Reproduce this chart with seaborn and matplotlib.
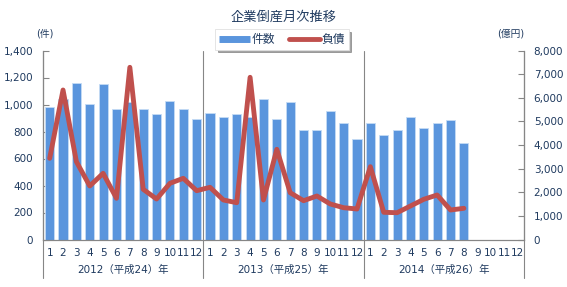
import numpy as np
import pandas as pd
import matplotlib
matplotlib.use("Agg")
import matplotlib.pyplot as plt
import matplotlib.transforms as mtransforms
from matplotlib.lines import Line2D
import seaborn as sns

# ---- data ----
month_labels = [str(m) for m in range(1, 13)] * 3
year_labels = ["2012（平成24）年", "2013（平成25）年", "2014（平成26）年"]
counts = [983, 1040, 1157, 1001, 1150, 969, 1021, 964, 927, 1028, 964, 890,
          935, 910, 927, 905, 1043, 895, 1021, 813, 813, 954, 861, 744,
          861, 776, 809, 910, 828, 861, 883, 717, np.nan, np.nan, np.nan, np.nan]
debts = [3437, 6328, 3293, 2265, 2802, 1744, 7289, 2125, 1714, 2378, 2590, 2066,
         2209, 1672, 1558, 6866, 1672, 3818, 1981, 1643, 1841, 1503, 1346, 1291,
         3082, 1151, 1134, 1418, 1702, 1884, 1249, 1320, np.nan, np.nan, np.nan, np.nan]
title = "企業倒産月次推移"
left_unit = "(件)"
right_unit = "(億円)"
series_names = ["件数", "負債"]

BLUE = "#5a95dd"
RED = "#c0504d"
TXT = "#1f3a5f"
GRID = "#868686"

sns.set_style("white")
plt.rcParams["font.family"] = ["DejaVu Sans", "Noto Sans CJK JP"]

pos = list(range(len(month_labels)))
df = pd.DataFrame({"pos": pos, "count": counts, "debt": debts})

fig = plt.figure(figsize=(5.67, 2.87), dpi=100)
ax = fig.add_axes([43 / 567, 1 - 239.5 / 287, (524 - 43) / 567, 189 / 287])

sns.barplot(data=df, x="pos", y="count", order=pos, ax=ax, color=BLUE,
            width=0.68, edgecolor="#c4dbf5", linewidth=0.6, saturation=1)
ax.set_xlim(-0.5, len(pos) - 0.5)
ax.set_ylim(0, 1400)
ax.set_yticks(range(0, 1401, 200))
ax.set_yticklabels([f"{v:,}" for v in range(0, 1401, 200)])
ax.set_xlabel("")
ax.set_ylabel("")

ax2 = ax.twinx()
sns.lineplot(data=df, x="pos", y="debt", ax=ax2, color=RED, linewidth=3.5)
ax2.set_ylim(0, 8000)
ax2.set_yticks(range(0, 8001, 1000))
ax2.set_yticklabels([f"{v:,}" for v in range(0, 8001, 1000)])
ax2.set_ylabel("")
ax2.set_xlim(-0.5, len(pos) - 0.5)

# ticks & spines
ax.set_xticks(pos)
ax.set_xticklabels(month_labels)
ax.set_xticks([p - 0.5 for p in pos] + [len(pos) - 0.5], minor=True)
ax.tick_params(axis="x", which="major", length=0, pad=6, labelsize=7.5, labelcolor=TXT)
ax.tick_params(axis="x", which="minor", length=11, direction="out", color=GRID, width=0.8)
ax.tick_params(axis="y", direction="in", length=4, color=GRID, width=0.8,
               labelsize=7.5, labelcolor=TXT, pad=7)
ax2.tick_params(axis="y", direction="in", length=4, color=GRID, width=0.8,
                labelsize=7.5, labelcolor=TXT, pad=7)
for a in (ax, ax2):
    a.spines["top"].set_visible(False)
    for s in ("left", "right", "bottom"):
        a.spines[s].set_color(GRID)
        a.spines[s].set_linewidth(0.8)

trans = mtransforms.blended_transform_factory(ax.transData, ax.transAxes)
for i, yl in enumerate(year_labels):
    ax.text(12 * i + 5.5, -0.161, yl, transform=trans, ha="center", va="center",
            fontsize=7.5, color=TXT)
for xb in [-0.5, 11.5, 23.5, 35.5]:
    ax.plot([xb, xb], [-0.204, 1.0], transform=trans, clip_on=False,
            color=GRID, lw=0.8)

fig.text(0.5, 1 - 17 / 287, title, ha="center", va="center", fontsize=9.5, color=TXT)
fig.text(45 / 567, 1 - 34 / 287, left_unit, ha="center", va="center", fontsize=7, color=TXT)
fig.text(511 / 567, 1 - 34 / 287, right_unit, ha="center", va="center", fontsize=7, color=TXT)

handles = [Line2D([], [], color=BLUE, lw=5, solid_capstyle="butt"),
           Line2D([], [], color=RED, lw=3.5)]
leg = fig.legend(handles, series_names, loc="center", bbox_to_anchor=(282 / 567, 1 - 39.5 / 287),
                 ncol=2, frameon=True, shadow=True, fontsize=8.5, handlelength=2.6,
                 handletextpad=0.15, columnspacing=1.2, borderpad=0.3,
                 borderaxespad=0, fancybox=False)
leg.get_frame().set_edgecolor("#e0e0e0")
leg.get_frame().set_linewidth(0.6)
for t in leg.get_texts():
    t.set_color(TXT)

fig.savefig("out.png", dpi=100)
